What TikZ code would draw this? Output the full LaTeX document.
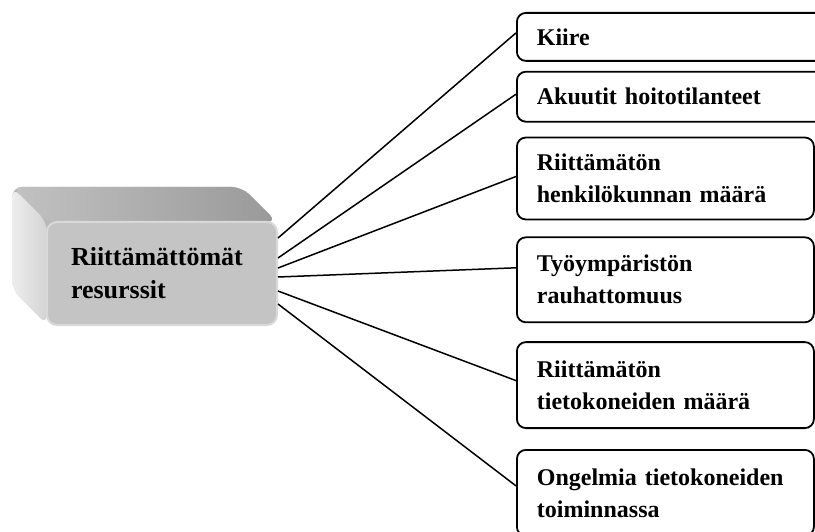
\documentclass[tikz,border=0pt]{standalone}
\usepackage{fontspec}
\setmainfont{Liberation Serif}
\usetikzlibrary{positioning}

\tikzset{
	cause/.style={draw, line width=1.8pt, rounded corners=9pt, align=left, inner xsep=20pt, text width=257pt, font=\bfseries\fontsize{24}{32}\selectfont},
	front/.style={fill=white!77!black, draw=white!85!black, line width=2pt, rounded corners=10pt, align=left, inner xsep=24pt, text width=182pt, minimum height=103pt, font=\bfseries\fontsize{26}{33}\selectfont},
	link/.style={line width=1.5pt}
}

\begin{document}
\begin{tikzpicture}[x=1pt,y=-1pt]
	\clip (0,0) rectangle (815,532);

	% block behind the front face
	\fill[white!72!black, rounded corners=10pt] (12,187) rectangle (242,290);
	\shade[left color=white!76!black, right color=white!60!black, rounded corners=10pt] (12,187) -- (242,187) -- (277,222) -- (47,222) -- cycle;
	\shade[left color=white!93!black, right color=white!83!black, rounded corners=10pt] (12,187) -- (47,222) -- (47,325) -- (12,290) -- cycle;
	\node[front] (main) at (162,273.5) {Riittämättömät\\resurssit};

	\node[cause, text width=280pt, minimum height=48pt, anchor=north west] (kiire) at (516,12) {Kiire};
	\node[cause, text width=280pt, minimum height=50pt, below=9pt of kiire.south west, anchor=north west] (akuutit) {Akuutit hoitotilanteet};
	\node[cause, minimum height=82pt, below=14pt of akuutit.south west, anchor=north west] (henkilo) {Riittämätön\\henkilökunnan määrä};
	\node[cause, minimum height=85pt, below=16pt of henkilo.south west, anchor=north west] (rauha) {Työympäristön\\rauhattomuus};
	\node[cause, minimum height=86pt, below=18pt of rauha.south west, anchor=north west] (kone) {Riittämätön\\tietokoneiden määrä};
	\node[cause, minimum height=86pt, below=20pt of kone.south west, anchor=north west] (ongelma) {Ongelmia tietokoneiden\\toiminnassa};

	\draw[link] ([yshift=35.5pt]main.east) -- ([yshift=4pt]kiire.west);
	\draw[link] ([yshift=15.5pt]main.east) -- ([yshift=2.5pt]akuutit.west);
	\draw[link] ([yshift=5.5pt]main.east) -- ([yshift=2pt]henkilo.west);
	\draw[link] ([yshift=-3.5pt]main.east) -- ([yshift=12pt]rauha.west);
	\draw[link] ([yshift=-17.5pt]main.east) -- ([yshift=4.5pt]kone.west);
	\draw[link] ([yshift=-30.5pt]main.east) -- ([yshift=7pt]ongelma.west);
\end{tikzpicture}
\end{document}
